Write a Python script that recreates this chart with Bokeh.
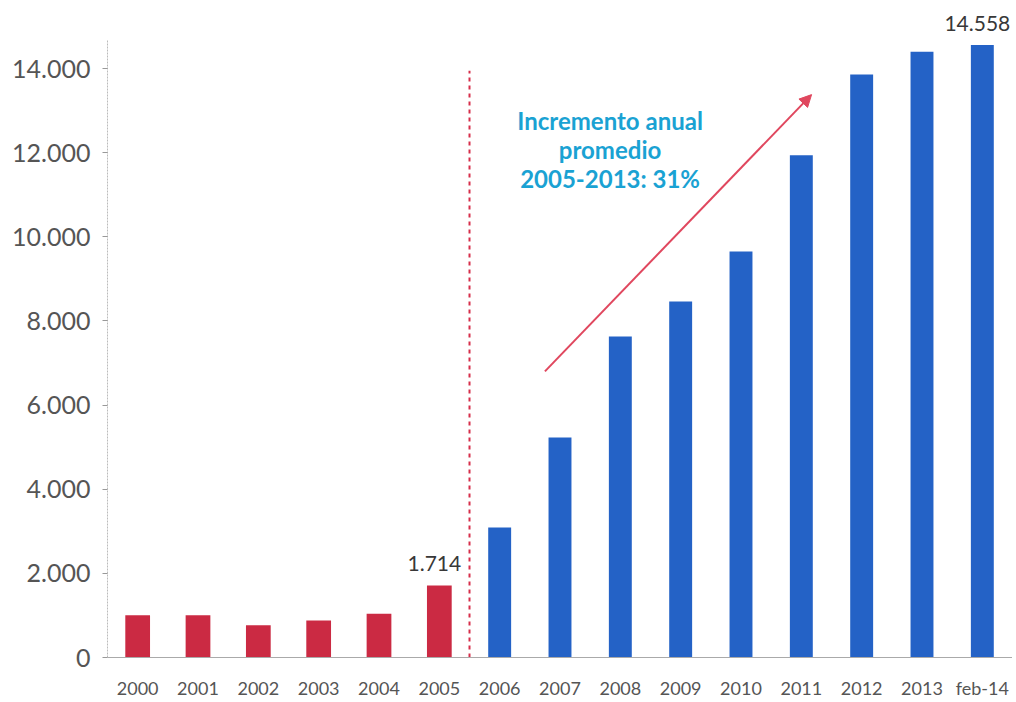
from bokeh.plotting import figure
from bokeh.models import FixedTicker, Arrow, NormalHead, Range1d, FactorRange, Label
from bokeh.core.properties import value
from bokeh.embed import file_html
from bokeh.resources import INLINE

# ---- data ----
years_red = ["2000", "2001", "2002", "2003", "2004", "2005"]
values_red = [1005, 1005, 768, 880, 1040, 1714]
years_blue = ["2006", "2007", "2008", "2009", "2010", "2011", "2012", "2013", "feb-14"]
values_blue = [3090, 5230, 7630, 8460, 9650, 11940, 13860, 14400, 14558]
y_ticks = [0, 2000, 4000, 6000, 8000, 10000, 12000, 14000]
y_tick_labels = ["0", "2.000", "4.000", "6.000", "8.000", "10.000", "12.000", "14.000"]
labeled_x = ["2005", "feb-14"]
labeled_y = [1714, 14558]
note_text = "Incremento anual\npromedio\n2005-2013: 31%"

categories = years_red + years_blue

RED = "#CB2A43"
BLUE = "#2462C6"
FONT = "Lato"

p = figure(x_range=FactorRange(*categories, range_padding=0), y_range=Range1d(0, 15617),
           width=1012, height=701, output_backend="svg", toolbar_location=None,
           min_border_left=107, min_border_right=0, min_border_top=0, min_border_bottom=0)
p.outline_line_color = None
p.xgrid.grid_line_color = None
p.ygrid.grid_line_color = None
p.background_fill_color = "white"

p.vbar(x=years_red, top=values_red, width=0.41, fill_color=RED, line_color=None)
p.vbar(x=years_blue, top=values_blue, width=0.38, fill_color=BLUE, line_color=None)

# dashed separator between 2005 and 2006
p.segment(x0=[6], y0=[0], x1=[6], y1=[13950], line_color="#D62E4A",
          line_width=2, line_dash="4 4")

# value labels (numeric synthetic coordinate = factor index + 0.5)
for lx, ly in zip(labeled_x, labeled_y):
    p.add_layout(Label(x=categories.index(lx) + 0.5, y=ly, text=f"{ly:,}".replace(",", "."),
                       text_align="center", text_baseline="bottom", y_offset=14, x_offset=-5,
                       text_font=FONT, text_font_size="21px", text_color="#383838"))

# annotation note
p.text(x=[8.33], y=[12075], text=[note_text], text_align="center", text_baseline="middle",
       text_font=value(FONT), text_font_style="bold", text_font_size="24px",
       text_color="#1AA2D3", text_line_height=1.0)

# trend arrow
p.add_layout(Arrow(x_start=7.25, y_start=6800, x_end=11.67, y_end=13380,
                   line_color="#E0475E", line_width=2,
                   end=NormalHead(size=12, fill_color="#E0475E", line_color="#E0475E")))

# axes
p.yaxis.ticker = FixedTicker(ticks=y_ticks)
p.yaxis.major_label_overrides = {t: l for t, l in zip(y_ticks, y_tick_labels)}
p.yaxis.bounds = (0, 14700)
p.yaxis.axis_line_color = "#BBBBBB"
p.yaxis.axis_line_dash = "2 1"
p.yaxis.major_tick_line_color = "#999999"
p.yaxis.major_tick_out = 5
p.yaxis.major_tick_in = 0
p.yaxis.minor_tick_line_color = None
p.yaxis.major_label_text_font = FONT
p.yaxis.major_label_text_font_size = "25px"
p.yaxis.major_label_text_color = "#555555"
p.yaxis.major_label_standoff = 12

p.xaxis.axis_line_color = "#AAAAAA"
p.xaxis.major_tick_line_color = None
p.xaxis.major_tick_out = 0
p.xaxis.major_tick_in = 0
p.xaxis.major_label_text_font = FONT
p.xaxis.major_label_text_font_size = "18px"
p.xaxis.major_label_text_color = "#555555"
p.xaxis.major_label_standoff = 19

open("out.html", "w").write(file_html(p, INLINE))
